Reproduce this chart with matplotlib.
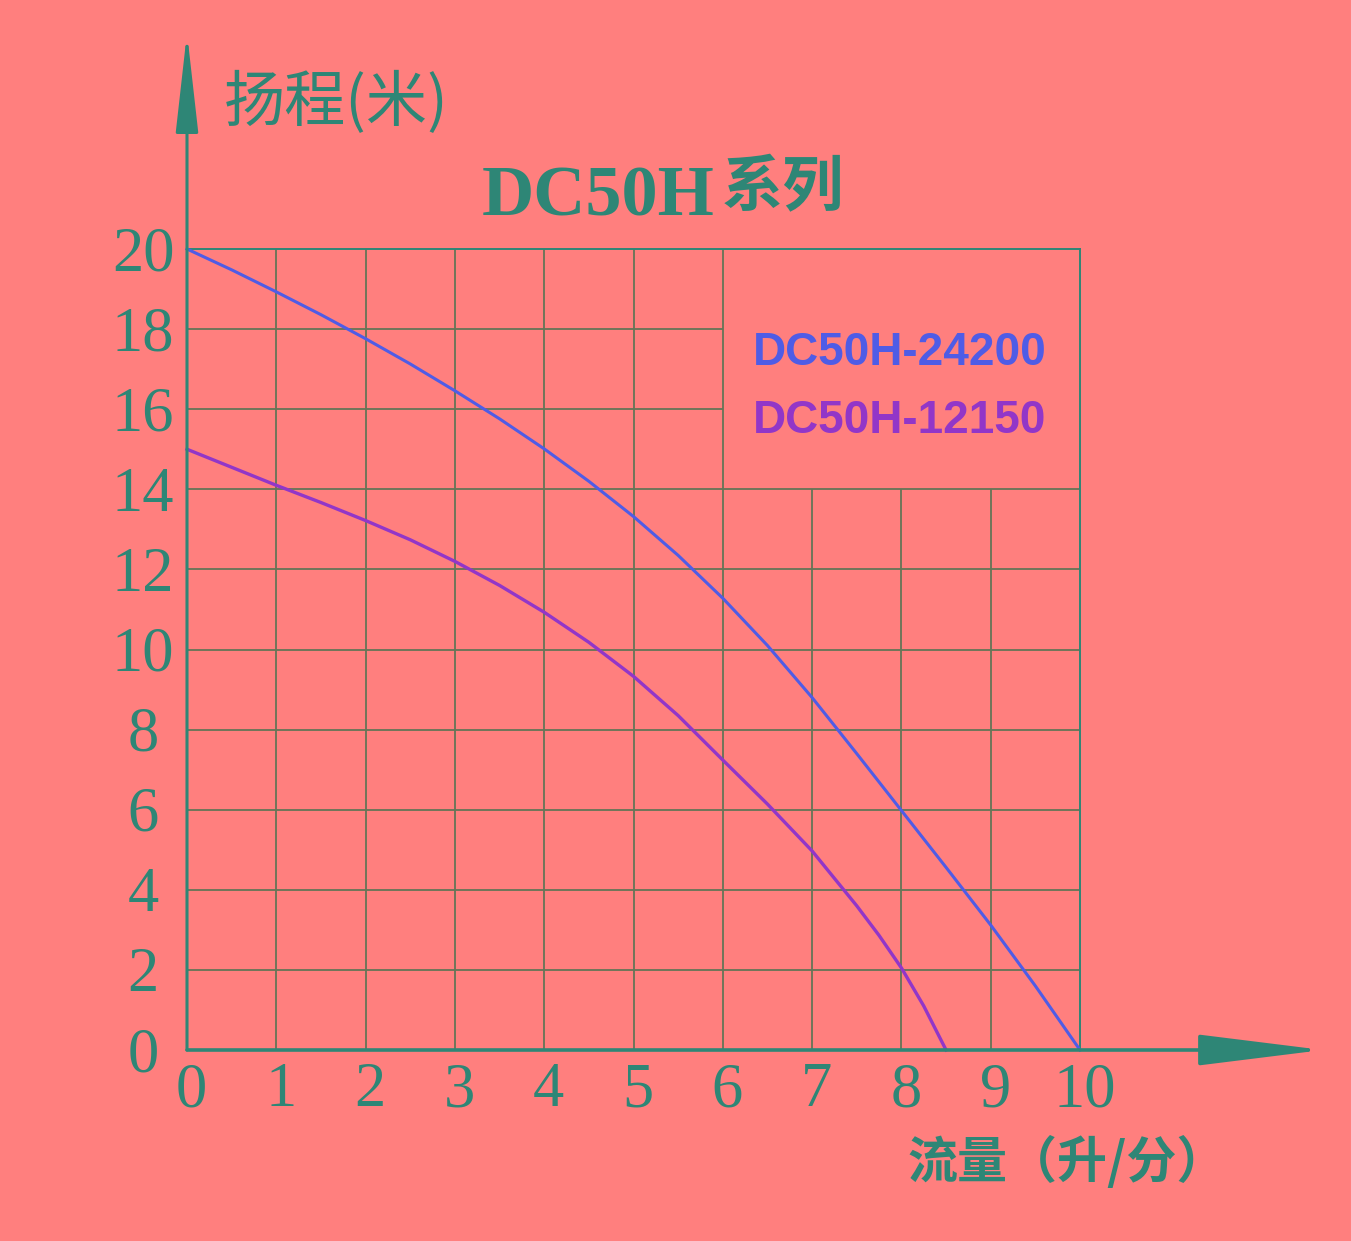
import matplotlib
matplotlib.use("Agg")
import matplotlib.pyplot as plt

BG = "#FF7F7E"
TEAL = "#2E8676"
GRID = "#647557"
BLUE = "#4F5CE6"
PURPLE = "#9236C8"

W, H = 1351, 1241

# flow (L/min) vs head (m)
flow_24200 = [0, 0.5, 1, 1.5, 2, 2.5, 3, 3.5, 4, 4.5, 5, 5.5, 6, 6.5, 7, 7.5, 8, 8.5, 9, 9.5, 10]
head_24200 = [20, 19.48, 18.93, 18.36, 17.76, 17.13, 16.46, 15.76, 15.01, 14.2, 13.32, 12.35,
              11.28, 10.1, 8.8, 7.4, 5.98, 4.56, 3.12, 1.6, 0]

flow_12150 = [0, 0.5, 1, 1.5, 2, 2.5, 3, 3.5, 4, 4.5, 5, 5.5, 6, 6.5, 7, 7.5, 7.75, 8, 8.25, 8.5]
head_12150 = [15.0, 14.55, 14.1, 13.67, 13.22, 12.74, 12.2, 11.6, 10.93, 10.18, 9.33, 8.35,
              7.24, 6.14, 4.97, 3.6, 2.86, 2.05, 1.1, 0]

x_ticks = [0, 1, 2, 3, 4, 5, 6, 7, 8, 9, 10]
y_ticks = [0, 2, 4, 6, 8, 10, 12, 14, 16, 18, 20]

title_latin = "DC50H"
title_cjk = "系列"
y_title = "扬程(米)"
x_title = "流量（升/分）"
series_names = ["DC50H-24200", "DC50H-12150"]


def px(x, y):
	# pixel position -> figure fraction
	return x / W, 1 - y / H


fig = plt.figure(figsize=(W / 100, H / 100), dpi=100, facecolor=BG)
ax = fig.add_axes([187 / W, 1 - 1050 / H, 893 / W, 801 / H])
ax.set_facecolor(BG)
ax.set_xlim(0, 10)
ax.set_ylim(0, 20)
ax.set_xticks([])
ax.set_yticks([])
for s in ["left", "bottom"]:
	ax.spines[s].set_visible(False)
for s in ["top", "right"]:
	ax.spines[s].set_color(TEAL)
	ax.spines[s].set_linewidth(1.4)

# grid: the upper right corner is left open for the legend
ax.hlines([y for y in y_ticks if 0 < y <= 14], 0, 10, color=GRID, lw=1.3, zorder=1)
ax.hlines([16, 18], 0, 6, color=GRID, lw=1.3, zorder=1)
ax.vlines([1, 2, 3, 4, 5, 6], 0, 20, color=GRID, lw=1.3, zorder=1)
ax.vlines([7, 8, 9], 0, 14, color=GRID, lw=1.3, zorder=1)

ax.plot(flow_24200, head_24200, color=BLUE, lw=2.2, zorder=3, clip_on=False,
		solid_joinstyle="round")
ax.plot(flow_12150, head_12150, color=PURPLE, lw=2.4, zorder=3, clip_on=False,
		solid_joinstyle="round")

# axis arrows
ax.annotate("", xy=(0, 25.4), xytext=(0, 0), annotation_clip=False,
			arrowprops=dict(arrowstyle="-|>,head_length=62,head_width=7", mutation_scale=1,
							color=TEAL, lw=2.2, shrinkA=0, shrinkB=0))
ax.annotate("", xy=(12.72, 0), xytext=(0, 0), annotation_clip=False,
			arrowprops=dict(arrowstyle="-|>,head_length=78,head_width=9.7", mutation_scale=1,
							color=TEAL, lw=2.6, shrinkA=0, shrinkB=0))

serif = "Liberation Serif"
for v in y_ticks:
	ax.text(-0.49, v - 0.53, str(v), ha="center", va="baseline", fontsize=45,
			family=serif, color=TEAL, clip_on=False)
for v in x_ticks:
	ax.text(v + 0.05, -1.40, str(v), ha="center", va="baseline", fontsize=45,
			family=serif, color=TEAL, clip_on=False)

# titles
fx, fy = px(715, 215)
fig.text(fx, fy, title_latin, ha="right", va="baseline", fontsize=52, family=serif,
		 weight="bold", color=TEAL)
fx, fy = px(783, 189)
fig.text(fx, fy, title_cjk, ha="center", va="center", fontsize=44,
		 family=["Noto Sans CJK SC", "DejaVu Sans"], weight="bold", color=TEAL)
fx, fy = px(336, 103)
fig.text(fx, fy, y_title, ha="center", va="center", fontsize=44,
		 family=["Noto Sans CJK SC", "DejaVu Sans"], color=TEAL)
fx, fy = px(1067, 1163)
fig.text(fx, fy, x_title, ha="center", va="center", fontsize=36,
		 family=["Noto Sans CJK SC", "DejaVu Sans"], weight="bold", color=TEAL)

# legend texts
fx, fy = px(753, 365)
fig.text(fx, fy, series_names[0], ha="left", va="baseline", fontsize=33,
		 family="Liberation Sans", weight="bold", color=BLUE)
fx, fy = px(753, 433)
fig.text(fx, fy, series_names[1], ha="left", va="baseline", fontsize=33,
		 family="Liberation Sans", weight="bold", color=PURPLE)

fig.savefig("out.png", dpi=100, facecolor=BG)
